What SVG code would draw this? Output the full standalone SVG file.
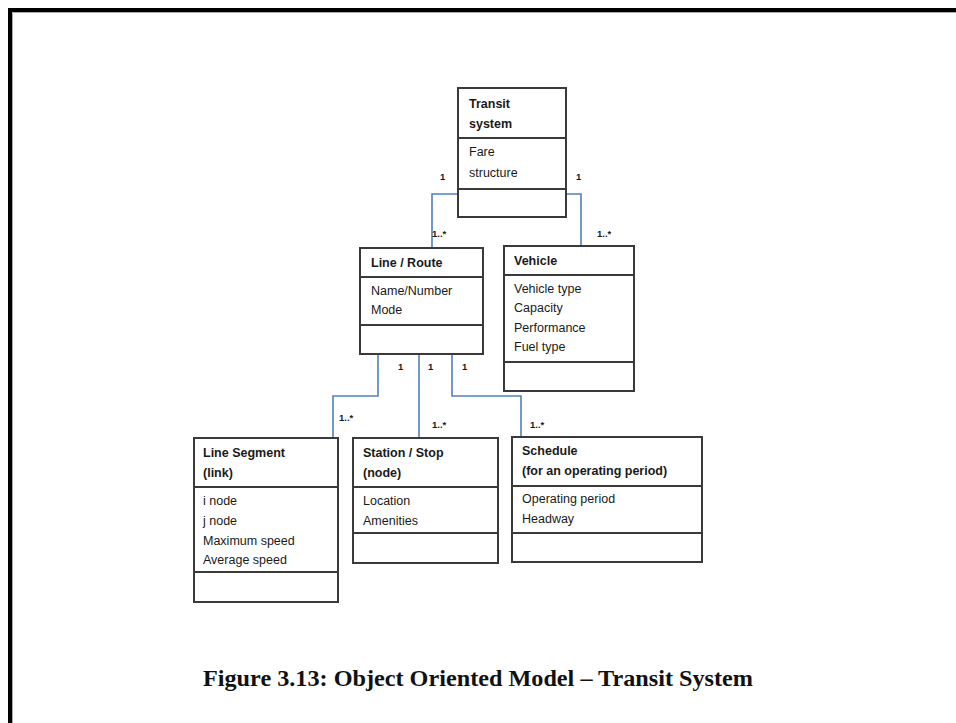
<svg xmlns="http://www.w3.org/2000/svg" width="956" height="723" viewBox="0 0 956 723">
<style>
.box{fill:#fff;stroke:#3a3a3a;stroke-width:2}
.div{stroke:#3a3a3a;stroke-width:2}
.t{font-family:"Liberation Sans",Arial,sans-serif;font-size:12.5px;fill:#1a1a1a}
.b{font-weight:bold}
.m{font-family:"Liberation Sans",Arial,sans-serif;font-size:9.5px;font-weight:bold;fill:#1a1a1a}
.c{fill:none;stroke:#4f81bd;stroke-width:1.6}
</style>
<rect width="956" height="723" fill="#fff"/>
<path d="M10,723 V10 H956" fill="none" stroke="#000" stroke-width="4"/>
<path d="M12.5,723 V12.5 H956" fill="none" stroke="#aaa" stroke-width="1"/>

<g id="connectors">
<path class="c" d="M458,194 H432 V248"/>
<path class="c" d="M566,194 H581 V246"/>
<path class="c" d="M378,354 V396 H333 V438"/>
<path class="c" d="M419,354 V438"/>
<path class="c" d="M452,354 V396 H521 V437"/>
<text class="m" x="440" y="180">1</text>
<text class="m" x="576" y="180">1</text>
<text class="m" x="432" y="237">1..*</text>
<text class="m" x="597" y="237">1..*</text>
<text class="m" x="398" y="370">1</text>
<text class="m" x="428" y="370">1</text>
<text class="m" x="462" y="370">1</text>
<text class="m" x="339" y="421">1..*</text>
<text class="m" x="432" y="428">1..*</text>
<text class="m" x="530" y="428">1..*</text>
</g>

<g id="transit-system">
<rect class="box" x="458" y="88" width="108" height="129"/>
<line class="div" x1="458" y1="138" x2="566" y2="138"/>
<line class="div" x1="458" y1="189" x2="566" y2="189"/>
<text class="t b" x="469" y="108">Transit</text>
<text class="t b" x="469" y="128">system</text>
<text class="t" x="469" y="156">Fare</text>
<text class="t" x="469" y="177">structure</text>
</g>

<g id="line-route">
<rect class="box" x="360" y="248" width="123" height="106"/>
<line class="div" x1="360" y1="277" x2="483" y2="277"/>
<line class="div" x1="360" y1="325" x2="483" y2="325"/>
<text class="t b" x="371" y="267">Line / Route</text>
<text class="t" x="371" y="295">Name/Number</text>
<text class="t" x="371" y="314">Mode</text>
</g>

<g id="vehicle">
<rect class="box" x="504" y="246" width="130" height="145"/>
<line class="div" x1="504" y1="275" x2="634" y2="275"/>
<line class="div" x1="504" y1="362" x2="634" y2="362"/>
<text class="t b" x="514" y="265">Vehicle</text>
<text class="t" x="514" y="293">Vehicle type</text>
<text class="t" x="514" y="312">Capacity</text>
<text class="t" x="514" y="332">Performance</text>
<text class="t" x="514" y="351">Fuel type</text>
</g>

<g id="line-segment">
<rect class="box" x="194" y="438" width="144" height="164"/>
<line class="div" x1="194" y1="487" x2="338" y2="487"/>
<line class="div" x1="194" y1="572" x2="338" y2="572"/>
<text class="t b" x="203" y="457">Line Segment</text>
<text class="t b" x="203" y="477">(link)</text>
<text class="t" x="203" y="505">i node</text>
<text class="t" x="203" y="525">j node</text>
<text class="t" x="203" y="545">Maximum speed</text>
<text class="t" x="203" y="564">Average speed</text>
</g>

<g id="station-stop">
<rect class="box" x="353" y="438" width="145" height="125"/>
<line class="div" x1="353" y1="487" x2="498" y2="487"/>
<line class="div" x1="353" y1="533" x2="498" y2="533"/>
<text class="t b" x="363" y="457">Station / Stop</text>
<text class="t b" x="363" y="477">(node)</text>
<text class="t" x="363" y="505">Location</text>
<text class="t" x="363" y="525">Amenities</text>
</g>

<g id="schedule">
<rect class="box" x="512" y="437" width="190" height="125"/>
<line class="div" x1="512" y1="486" x2="702" y2="486"/>
<line class="div" x1="512" y1="533" x2="702" y2="533"/>
<text class="t b" x="522" y="455">Schedule</text>
<text class="t b" x="522" y="475">(for an operating period)</text>
<text class="t" x="522" y="503">Operating period</text>
<text class="t" x="522" y="523">Headway</text>
</g>

<text x="203" y="686" textLength="550" lengthAdjust="spacingAndGlyphs" style="font-family:'Liberation Serif','Times New Roman',serif;font-size:24px;font-weight:bold;fill:#111">Figure 3.13: Object Oriented Model – Transit System</text>
</svg>
